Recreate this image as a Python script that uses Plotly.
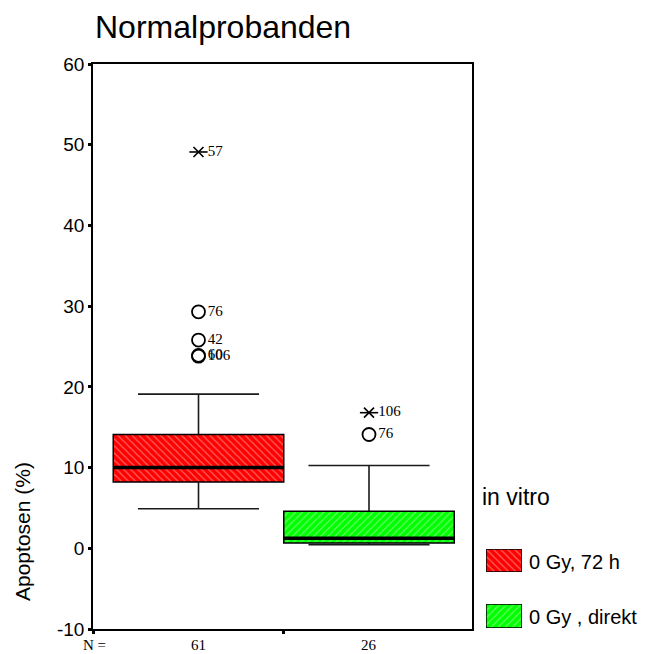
import plotly.graph_objects as go

# Summary statistics per group (Apoptosen in %)
groups = ["0 Gy, 72 h", "0 Gy , direkt"]
n_counts = [61, 26]
q1 = [8.2, 0.66]
median = [10.0, 1.25]
q3 = [14.1, 4.6]
whisker_low = [4.9, 0.45]
whisker_high = [19.1, 10.25]

# Outliers (circles) and extremes (stars) with case labels
out_group = [1, 1, 1, 1, 2]
out_value = [29.3, 25.8, 23.9, 23.8, 14.1]
out_label = ["76", "42", "60", "106", "76"]
ext_group = [1, 2]
ext_value = [49.1, 16.8]
ext_label = ["57", "106"]

y_ticks = [-10, 0, 10, 20, 30, 40, 50, 60]

fill_colors = ["#ff0000", "#00ff00"]
stripe_colors = ["#ffd0d0", "#d0ffd0"]
stripe_shapes = ["\\", "/"]

W, H = 645, 654
ML, MR, MT, MB = 93, 10, 64, 25
PW, PH = W - ML - MR, H - MT - MB
MAIN_W = 379  # pixel width of the plotting frame

def px_x(p):
    return (p - ML) / PW

def px_y(p):
    return (H - MB - p) / PH

fig = go.Figure()

box_half = 0.5
cap_half = 0.355
line_col = "#1a1a1a"

for i, g in enumerate(groups):
    xc = i + 1
    fig.add_trace(go.Bar(
        x=[xc], base=[q1[i]], y=[q3[i] - q1[i]], width=[2 * box_half],
        marker=dict(color=fill_colors[i],
                    line=dict(color="black", width=1.5),
                    pattern=dict(shape=stripe_shapes[i], fgcolor=stripe_colors[i],
                                 size=5, solidity=0.22)),
        showlegend=False, hoverinfo="skip", xaxis="x", yaxis="y"))
    # whiskers
    fig.add_trace(go.Scatter(
        x=[xc, xc, None, xc, xc, None,
           xc - cap_half, xc + cap_half, None, xc - cap_half, xc + cap_half],
        y=[q3[i], whisker_high[i], None, q1[i], whisker_low[i], None,
           whisker_high[i], whisker_high[i], None, whisker_low[i], whisker_low[i]],
        mode="lines", line=dict(color=line_col, width=1.6),
        showlegend=False, hoverinfo="skip"))
    # median
    fig.add_trace(go.Scatter(
        x=[xc - box_half, xc + box_half], y=[median[i], median[i]],
        mode="lines", line=dict(color="black", width=3.5),
        showlegend=False, hoverinfo="skip"))

label_font = dict(family="Liberation Serif", size=15, color="black")

fig.add_trace(go.Scatter(
    x=out_group, y=out_value, mode="markers+text", text=out_label,
    textposition="middle right", textfont=label_font,
    marker=dict(symbol="circle-open", size=13, color="black", line=dict(width=1.8)),
    showlegend=False, hoverinfo="skip"))
# extreme values: a diagonal cross with a horizontal bar
fig.add_trace(go.Scatter(
    x=ext_group, y=ext_value, mode="markers",
    marker=dict(symbol="x-thin-open", size=10, color="black", line=dict(width=1.6)),
    showlegend=False, hoverinfo="skip"))
fig.add_trace(go.Scatter(
    x=ext_group, y=ext_value, mode="markers+text", text=ext_label,
    textposition="middle right", textfont=label_font,
    marker=dict(symbol="line-ew-open", size=13, color="black", line=dict(width=1.6)),
    showlegend=False, hoverinfo="skip"))

# Legend swatches drawn on their own small axes
sw_x0, sw_x1 = 486, 522
swatch_rows = [(549, 572), (604, 628)]
for i, g in enumerate(groups):
    k = i + 2
    fig.add_trace(go.Bar(
        x=[0], y=[1], width=[1],
        marker=dict(color=fill_colors[i], line=dict(color="black", width=1.5),
                    pattern=dict(shape=stripe_shapes[i], fgcolor=stripe_colors[i],
                                 size=5, solidity=0.22)),
        showlegend=False, hoverinfo="skip", xaxis=f"x{k}", yaxis=f"y{k}"))
    top, bot = swatch_rows[i]
    fig.layout[f"xaxis{k}"] = dict(domain=[px_x(sw_x0), px_x(sw_x1)], range=[-0.5, 0.5],
                                   visible=False, fixedrange=True, anchor=f"y{k}")
    fig.layout[f"yaxis{k}"] = dict(domain=[px_y(bot), px_y(top)], range=[0, 1],
                                   visible=False, fixedrange=True, anchor=f"x{k}")
    fig.add_annotation(x=px_x(527), y=px_y((top + bot) / 2 + 1), xref="paper", yref="paper",
                       text=g, showarrow=False, xanchor="left", yanchor="middle",
                       font=dict(family="Liberation Sans", size=20, color="black"))

fig.add_annotation(x=px_x(480), y=px_y(497), xref="paper", yref="paper",
                   text="in vitro", showarrow=False, xanchor="left", yanchor="middle",
                   font=dict(family="Liberation Sans", size=23, color="black"))

x_lo = 1 - (198.5 - ML) / 170.5
x_hi = 2 + (ML + MAIN_W - 369) / 170.5

fig.update_layout(
    width=W, height=H,
    margin=dict(l=ML, r=MR, t=MT, b=MB),
    paper_bgcolor="white", plot_bgcolor="white",
    barmode="overlay",
    font=dict(family="Liberation Sans", color="black"),
    xaxis=dict(domain=[0, MAIN_W / PW], range=[x_lo, x_hi],
               tickvals=[x_lo, 1.5], ticktext=["", ""],
               ticks="outside", ticklen=3, tickwidth=3, tickcolor="black",
               showline=True, linecolor="black", linewidth=1.5, mirror=True,
               showgrid=False, zeroline=False, fixedrange=True),
    yaxis=dict(domain=[0, 1], range=[-10, 60], tickvals=y_ticks,
               ticktext=[str(t) for t in y_ticks],
               ticks="outside", ticklen=3, tickwidth=3, tickcolor="black",
               tickfont=dict(family="Liberation Sans", size=19, color="black"),
               showline=True, linecolor="black", linewidth=1.5, mirror=True,
               showgrid=False, zeroline=False, fixedrange=True),
)

# Title, axis title and group counts
fig.add_annotation(x=0, y=px_y(27), xref="paper", yref="paper", text="Normalprobanden",
                   showarrow=False, xanchor="left", yanchor="middle",
                   font=dict(family="Liberation Sans", size=32, color="black"))
fig.add_annotation(x=px_x(22), y=px_y(532), xref="paper", yref="paper", text="Apoptosen (%)",
                   textangle=-90, showarrow=False, xanchor="center", yanchor="middle",
                   font=dict(family="Liberation Sans", size=21, color="black"))
fig.add_annotation(x=px_x(94), y=px_y(645), xref="paper", yref="paper", text="N =",
                   showarrow=False, xanchor="center", yanchor="middle",
                   font=dict(family="Liberation Serif", size=15, color="black"))
for i, n in enumerate(n_counts):
    fig.add_annotation(x=i + 1, y=px_y(645), xref="x", yref="paper", text=str(n),
                       showarrow=False, xanchor="center", yanchor="middle",
                       font=dict(family="Liberation Serif", size=15, color="black"))

fig.write_html("out.html")
